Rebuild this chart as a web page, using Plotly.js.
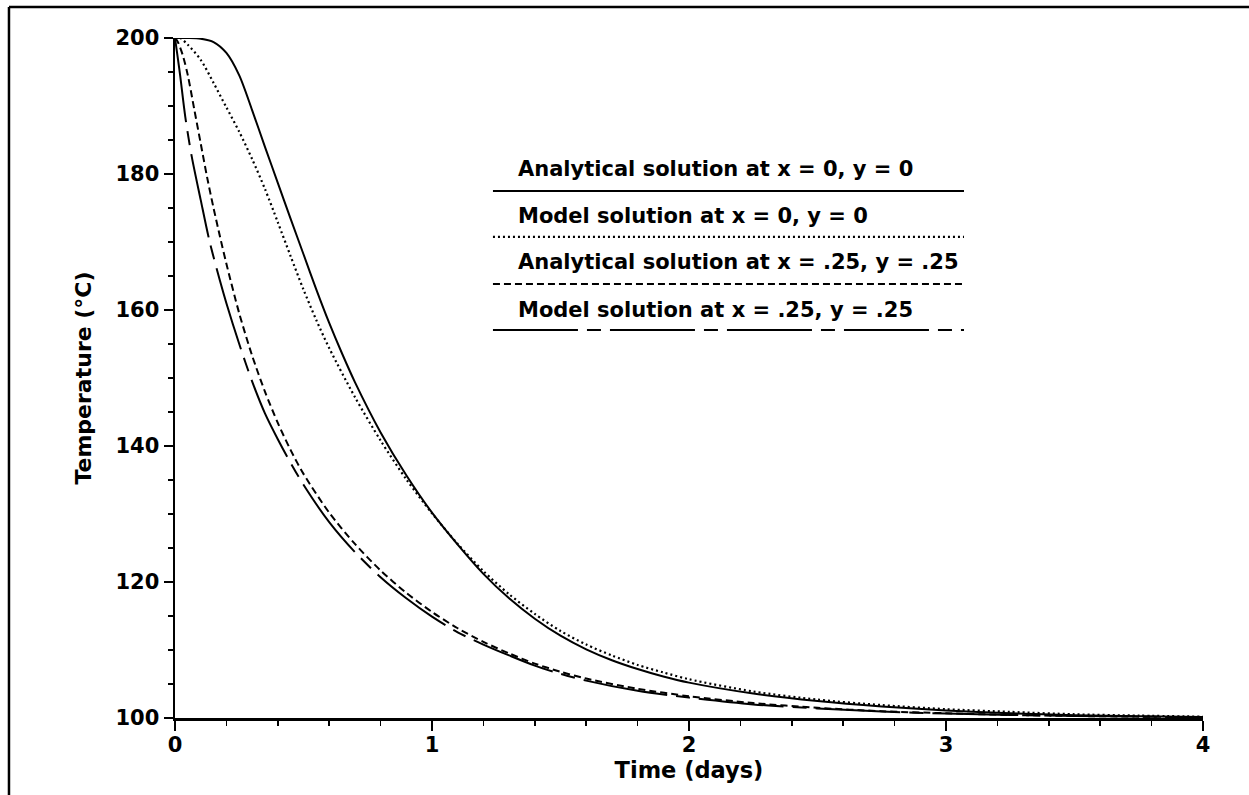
<!DOCTYPE html>
<html>
<head>
<meta charset="utf-8">
<script src="https://cdn.plot.ly/plotly-3.0.1.min.js"></script>
<style>
  html, body { margin: 0; padding: 0; background: #fff; }
  #chart { width: 1249px; height: 795px; }
</style>
</head>
<body>
<div id="chart"></div>
<script>
// ---- Data ----
// Analytical solution at x = 0, y = 0 (solid)
const anaCenterX = [0, 0.05, 0.1, 0.15, 0.2, 0.25, 0.3, 0.35, 0.4, 0.45, 0.5, 0.55, 0.6, 0.65, 0.7, 0.8, 0.9, 1.0, 1.1, 1.2, 1.3, 1.4, 1.5, 1.6, 1.7, 1.8, 1.9, 2.0, 2.25, 2.5, 2.75, 3.0, 3.25, 3.5, 3.75, 4.0];
const anaCenterT = [200, 200, 199.9, 199.4, 197.8, 194.5, 189.4, 184.0, 178.7, 173.4, 168.2, 163.0, 158.1, 153.6, 149.4, 142.0, 135.7, 130.2, 125.5, 121.2, 117.6, 114.6, 112.1, 110.1, 108.5, 107.2, 106.1, 105.2, 103.6, 102.5, 101.7, 101.1, 100.7, 100.4, 100.25, 100.15];

// Model solution at x = 0, y = 0 (dotted)
const modCenterX = [0, 0.02, 0.05, 0.1, 0.15, 0.2, 0.25, 0.3, 0.35, 0.4, 0.45, 0.5, 0.55, 0.6, 0.7, 0.8, 0.9, 1.0, 1.1, 1.2, 1.3, 1.4, 1.5, 1.6, 1.7, 1.8, 1.9, 2.0, 2.25, 2.5, 2.75, 3.0, 3.25, 3.5, 3.75, 4.0];
const modCenterT = [200, 200, 199.0, 196.8, 193.4, 189.8, 186.2, 182.2, 177.8, 172.9, 167.9, 163.0, 158.5, 154.4, 147.2, 140.8, 135.1, 130.1, 125.6, 121.6, 118.2, 115.3, 112.8, 110.8, 109.2, 107.8, 106.7, 105.7, 103.9, 102.7, 101.9, 101.3, 100.9, 100.55, 100.35, 100.2];

// Analytical solution at x = .25, y = .25 (short dashes)
const anaOffX = [0, 0.01, 0.03, 0.05, 0.075, 0.1, 0.125, 0.15, 0.175, 0.2, 0.25, 0.3, 0.35, 0.4, 0.45, 0.5, 0.6, 0.7, 0.8, 0.9, 1.0, 1.1, 1.2, 1.3, 1.4, 1.5, 1.6, 1.8, 2.0, 2.25, 2.5, 2.75, 3.0, 3.25, 3.5, 3.75, 4.0];
const anaOffT = [200, 199.5, 197.5, 194.5, 189.5, 184.5, 179.5, 175, 170.8, 166.8, 159.5, 153.3, 148, 143.4, 139.4, 135.9, 130.2, 125.6, 121.7, 118.4, 115.6, 113.2, 111.2, 109.5, 108.0, 106.8, 105.8, 104.3, 103.2, 102.2, 101.5, 101.0, 100.7, 100.45, 100.3, 100.2, 100.1];

// Model solution at x = .25, y = .25 (long/short dashes)
const modOffX = [0, 0.01, 0.02, 0.04, 0.065, 0.1, 0.135, 0.175, 0.2, 0.25, 0.3, 0.35, 0.4, 0.45, 0.5, 0.6, 0.7, 0.8, 0.9, 1.0, 1.1, 1.2, 1.3, 1.4, 1.5, 1.6, 1.8, 2.0, 2.25, 2.5, 2.75, 3.0, 3.25, 3.5, 3.75, 4.0];
const modOffT = [200, 197.3, 194.5, 188.4, 182.6, 176.2, 170.0, 164.3, 161.0, 155.0, 149.5, 144.8, 141.0, 137.5, 134.3, 128.8, 124.4, 120.7, 117.6, 114.9, 112.6, 110.8, 109.2, 107.7, 106.5, 105.5, 104.0, 103.0, 102.0, 101.4, 100.95, 100.65, 100.45, 100.3, 100.2, 100.1];

const legendLabels = [
  "Analytical solution at x = 0, y = 0",
  "Model solution at x = 0, y = 0",
  "Analytical solution at x = .25, y = .25",
  "Model solution at x = .25, y = .25"
];
const xTickVals = [0, 1, 2, 3, 4];
const yTickVals = [100, 120, 140, 160, 180, 200];

// ---- Styles ----
const FONT = "DejaVu Sans, Verdana, sans-serif";
const dashes = ["solid", "2px,3px", "7px,4px", "85px,9px,14px,9px"];
const widths = [2, 2.2, 2, 2];

const series = [
  [anaCenterX, anaCenterT],
  [modCenterX, modCenterT],
  [anaOffX, anaOffT],
  [modOffX, modOffT]
];

const traces = series.map((s, i) => ({
  x: s[0], y: s[1], type: "scatter", mode: "lines",
  name: legendLabels[i],
  line: { color: "#000", width: widths[i], dash: dashes[i], shape: "spline", smoothing: 0.8 },
  hoverinfo: "skip",
  showlegend: false
}));

// legend block (paper coordinates)
const legX0 = 0.3093, legX1 = 0.7675, legTextX = 0.3317;
const legLineY = [0.775, 0.7074, 0.6382, 0.5706];
const legTextY = [0.8074, 0.7382, 0.6706, 0.6004];

const shapes = legendLabels.map((_, i) => ({
  type: "line", xref: "paper", yref: "paper",
  x0: legX0, x1: legX1, y0: legLineY[i], y1: legLineY[i],
  line: { color: "#000", width: widths[i], dash: dashes[i] }
}));
// outer frame: top and left edges
shapes.push({ type: "line", xref: "paper", yref: "paper", x0: -0.1615, x1: 1.05, y0: 1.0456, y1: 1.0456, line: { color: "#000", width: 2.5 } });
shapes.push({ type: "line", xref: "paper", yref: "paper", x0: -0.1615, x1: -0.1615, y0: 1.0456, y1: -0.12, line: { color: "#000", width: 2.5 } });

const annotations = legendLabels.map((t, i) => ({
  text: t, xref: "paper", yref: "paper", x: legTextX, y: legTextY[i],
  xanchor: "left", yanchor: "middle", showarrow: false,
  font: { family: FONT, size: 21, color: "#000", weight: "bold" }
}));

const layout = {
  width: 1249, height: 795,
  margin: { l: 175, r: 46, t: 38, b: 77 },
  paper_bgcolor: "#fff", plot_bgcolor: "#fff",
  font: { family: FONT, color: "#000" },
  xaxis: {
    range: [0, 4], tickvals: xTickVals, ticktext: xTickVals.map(String),
    ticks: "outside", ticklen: 10, tickwidth: 2, tickcolor: "#000",
    ticklabelstandoff: -4,
    minor: { dtick: 0.2, tick0: 0, ticks: "outside", ticklen: 5, tickwidth: 1.5, tickcolor: "#000" },
    showline: true, linecolor: "#000", linewidth: 2.5,
    showgrid: false, zeroline: false,
    tickfont: { family: FONT, size: 21, color: "#000", weight: "bold" },
    title: { text: "Time (days)", font: { family: FONT, size: 22.5, color: "#000", weight: "bold" }, standoff: 4 }
  },
  yaxis: {
    range: [100, 200], tickvals: yTickVals, ticktext: yTickVals.map(String),
    ticks: "outside", ticklen: 9, tickwidth: 2, tickcolor: "#000",
    minor: { dtick: 5, tick0: 100, ticks: "outside", ticklen: 5, tickwidth: 1.5, tickcolor: "#000" },
    showline: true, linecolor: "#000", linewidth: 2.5,
    showgrid: false, zeroline: false,
    tickfont: { family: FONT, size: 21, color: "#000", weight: "bold" },
    title: { text: "Temperature (°C)", font: { family: FONT, size: 22, color: "#000", weight: "bold" }, standoff: 18 }
  },
  shapes: shapes,
  annotations: annotations,
  showlegend: false
};

Plotly.newPlot("chart", traces, layout, { staticPlot: true, displayModeBar: false });
</script>
</body>
</html>
